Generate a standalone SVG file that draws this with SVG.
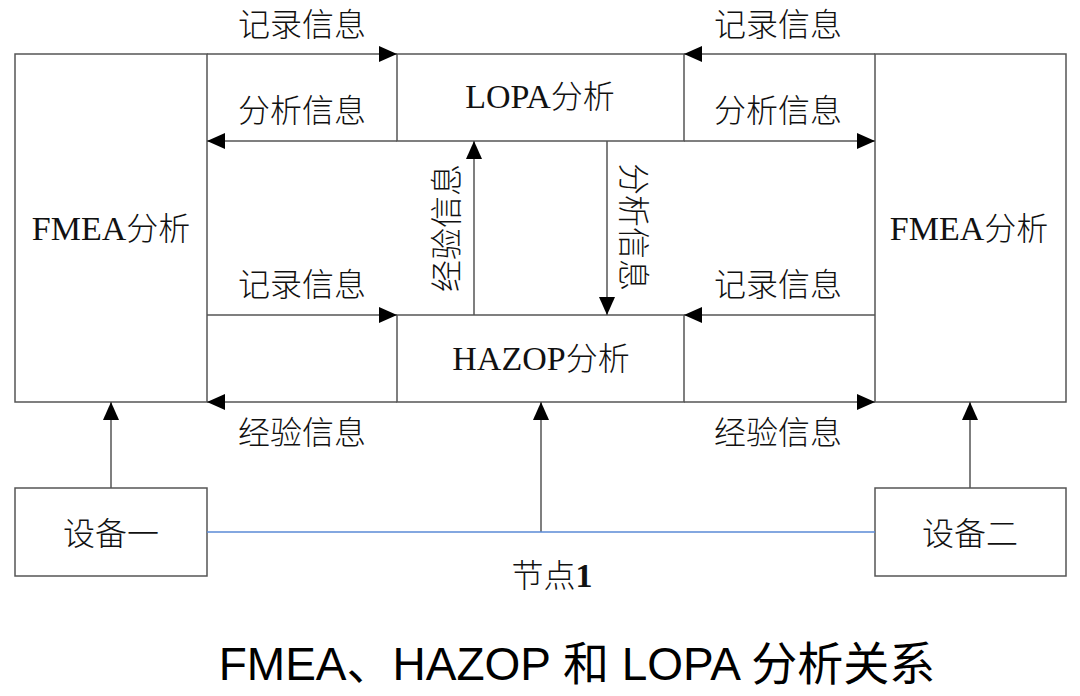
<svg xmlns="http://www.w3.org/2000/svg" width="1080" height="696" viewBox="0 0 1080 696">
<style>
.box{fill:#fff;stroke:#555;stroke-width:1.5}
.ln{stroke:#555;stroke-width:1.5;fill:none}
.blue{stroke:#5a8ad6;stroke-width:1.5;fill:none}
.cn{font-family:"Noto Sans CJK SC","Noto Sans CJK JP",sans-serif;font-size:32px;font-weight:300;fill:#111;text-anchor:middle}
.mix{font-family:"Liberation Serif","Noto Sans CJK SC",serif;font-size:34px;fill:#111;text-anchor:middle}
.title{font-family:"Liberation Sans","Noto Sans CJK SC",sans-serif;font-size:46px;fill:#000;text-anchor:middle}
</style>
<defs>
<marker id="arr" viewBox="0 0 18 16" refX="18" refY="8" markerWidth="18" markerHeight="16" markerUnits="userSpaceOnUse" orient="auto">
<path d="M0,0 L18,8 L0,16 Z" fill="#000"/>
</marker>
</defs>
<rect width="1080" height="696" fill="#fff"/>

<g id="fmea-left"><rect class="box" x="15" y="54" width="192" height="348"/><text class="mix" x="111" y="240">FMEA<tspan font-family="Noto Sans CJK SC,sans-serif" font-weight="300" font-size="32">分析</tspan></text></g>
<g id="fmea-right"><rect class="box" x="875" y="54" width="191" height="348"/><text class="mix" x="969" y="240">FMEA<tspan font-family="Noto Sans CJK SC,sans-serif" font-weight="300" font-size="32">分析</tspan></text></g>
<g id="lopa"><rect class="box" x="397" y="54" width="287" height="87"/><text class="mix" x="540" y="108">LOPA<tspan font-family="Noto Sans CJK SC,sans-serif" font-weight="300" font-size="32">分析</tspan></text></g>
<g id="hazop"><rect class="box" x="397" y="315" width="287" height="87"/><text class="mix" x="541" y="370">HAZOP<tspan font-family="Noto Sans CJK SC,sans-serif" font-weight="300" font-size="32">分析</tspan></text></g>
<g id="device1"><rect class="box" x="15" y="488" width="192" height="88"/><text class="cn" x="111" y="545">设备一</text></g>
<g id="device2"><rect class="box" x="875" y="488" width="191" height="88"/><text class="cn" x="970" y="545">设备二</text></g>

<g id="connectors">
<line class="ln" x1="207" y1="54" x2="397" y2="54" marker-end="url(#arr)"/>
<line class="ln" x1="875" y1="54" x2="684" y2="54" marker-end="url(#arr)"/>
<line class="ln" x1="397" y1="141" x2="207" y2="141" marker-end="url(#arr)"/>
<line class="ln" x1="684" y1="141" x2="875" y2="141" marker-end="url(#arr)"/>
<line class="ln" x1="207" y1="315" x2="397" y2="315" marker-end="url(#arr)"/>
<line class="ln" x1="875" y1="315" x2="684" y2="315" marker-end="url(#arr)"/>
<line class="ln" x1="397" y1="402" x2="207" y2="402" marker-end="url(#arr)"/>
<line class="ln" x1="684" y1="402" x2="875" y2="402" marker-end="url(#arr)"/>
<line class="ln" x1="474" y1="315" x2="474" y2="141" marker-end="url(#arr)"/>
<line class="ln" x1="607" y1="141" x2="607" y2="315" marker-end="url(#arr)"/>
<line class="ln" x1="111" y1="488" x2="111" y2="402" marker-end="url(#arr)"/>
<line class="ln" x1="541" y1="532" x2="541" y2="402" marker-end="url(#arr)"/>
<line class="ln" x1="970" y1="488" x2="970" y2="402" marker-end="url(#arr)"/>
<line class="blue" x1="207" y1="532" x2="875" y2="532"/>
</g>

<g id="labels">
<text class="cn" x="302" y="36">记录信息</text>
<text class="cn" x="778" y="36">记录信息</text>
<text class="cn" x="302" y="122">分析信息</text>
<text class="cn" x="778" y="122">分析信息</text>
<text class="cn" x="302" y="296">记录信息</text>
<text class="cn" x="778" y="296">记录信息</text>
<text class="cn" x="302" y="444">经验信息</text>
<text class="cn" x="778" y="444">经验信息</text>
<text class="cn" transform="translate(444,228) rotate(-90)" dominant-baseline="central">经验信息</text>
<text class="cn" transform="translate(636,227) rotate(90)" dominant-baseline="central">分析信息</text>
<text class="cn" x="552" y="587">节点<tspan font-family="Liberation Serif,serif" font-weight="bold" font-size="34">1</tspan></text>
</g>

<text class="title" x="577" y="680">FMEA、HAZOP 和 LOPA 分析关系</text>
</svg>
